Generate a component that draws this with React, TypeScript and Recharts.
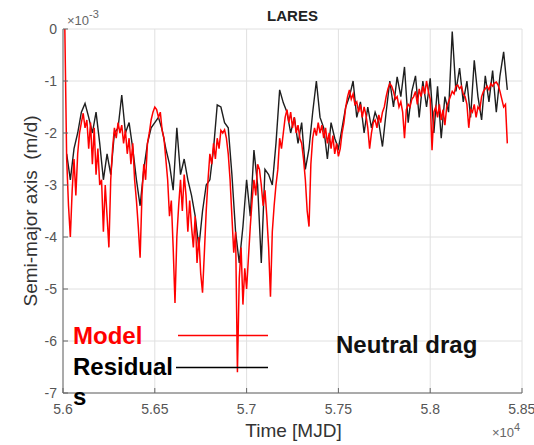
import React from 'react';
import { LineChart, Line, XAxis, YAxis, CartesianGrid } from 'recharts';

// Time axis (MJD) and semi-major axis rate axis (units of 1e-3 m/d)
const X_TICKS = [56000, 56500, 57000, 57500, 58000, 58500];
const Y_TICKS = [-7, -6, -5, -4, -3, -2, -1, 0];

// Model series: sampled every 10 days starting at MJD 56010
const MODEL_START = 56010;
const MODEL_STEP = 10;
const MODEL_VALUES = [
  0, -2.5, -3.4, -4.0, -3.1, -2.5, -3.2, -2.4, -2.0, -1.8,
  -1.62, -1.9, -1.75, -2.3, -1.8, -2.6, -1.9, -2.8, -2.3, -3.0,
  -2.9, -3.9, -3.0, -3.6, -4.2, -2.9, -2.3, -1.9, -2.1, -1.8,
  -2.0, -1.85, -2.2, -1.95, -2.4, -2.1, -2.6, -2.2, -2.9, -3.3,
  -3.8, -4.4, -3.2, -2.6, -2.9, -2.2, -2.0, -1.75, -1.6, -1.5,
  -1.55, -1.7, -1.6, -1.95, -2.1, -2.5, -2.9, -3.6, -3.3, -4.2,
  -5.27, -4.0, -3.4, -2.9, -3.5, -2.8, -3.2, -3.9, -3.3, -3.8,
  -4.2, -3.6, -4.5, -4.0, -4.7, -5.07, -4.3, -3.5, -2.9, -2.4,
  -2.6, -2.2, -2.5, -2.1, -2.3, -1.95, -2.0, -1.94, -2.1, -2.4,
  -2.9, -3.6, -4.3, -3.9, -6.6, -4.8, -4.2, -5.3, -4.6, -5.0,
  -4.4, -3.8, -3.3, -2.9, -3.2, -2.6, -2.7, -3.0, -3.4, -3.1,
  -3.6, -4.2, -5.15, -3.9, -3.4, -3.0, -2.7, -2.1, -2.3, -2.0,
  -1.7, -1.55, -1.8, -1.6, -1.9, -1.7, -2.0, -1.85, -2.1, -2.2,
  -2.5, -2.9, -3.5, -3.8, -2.6, -2.1, -1.9, -2.05, -1.8, -2.0,
  -1.85, -2.1, -1.9, -2.2, -2.0, -2.3, -2.05, -2.4, -2.2, -2.45,
  -2.3, -2.0, -1.8, -1.5, -1.3, -1.17, -1.35, -1.25, -1.45, -1.4,
  -1.6, -1.45, -1.7, -1.5, -1.65, -1.9, -2.3, -2.0, -1.8, -1.75,
  -1.9, -1.65, -1.8, -1.6, -1.5, -1.3, -1.15, -1.05, -1.1, -1.2,
  -1.35, -1.3, -1.5, -1.4, -1.6, -2.1, -1.55, -1.45, -1.5, -1.35,
  -1.3, -1.2, -1.45, -1.15, -1.3, -1.1, -1.25, -1.0, -1.2, -1.35,
  -2.33, -1.6, -1.5, -1.7, -1.45, -1.75, -1.55, -1.85, -1.5, -1.4,
  -1.3, -1.2, -1.25, -1.1, -1.08, -1.15, -1.1, -1.25, -1.3, -1.45,
  -1.9, -1.55, -1.6, -1.45, -1.7, -1.5, -1.55, -1.3, -1.2, -1.15,
  -1.1, -1.17, -1.05, -1.1, -1.04, -1.02, -1.08, -1.2, -1.35, -1.5, -1.45, -2.2,
];

// Residuals series: sampled every 20 days starting at MJD 56020
const RESID_START = 56020;
const RESID_STEP = 20;
const RESID_VALUES = [
  -2.4, -2.9, -2.3, -2.0, -1.6, -1.43, -1.7, -2.0, -1.6, -2.2,
  -2.9, -2.4, -2.8, -2.0, -1.9, -1.27, -2.0, -1.8, -2.3, -2.9,
  -3.4, -2.7, -2.2, -1.9, -1.8, -1.7, -1.94, -2.3, -2.6, -3.1,
  -1.9, -2.8, -2.5, -2.9, -3.2, -3.6, -4.2, -3.5, -3.0, -2.9,
  -2.3, -1.46, -1.5, -1.8, -1.9, -2.8, -3.9, -4.5, -3.8, -2.9,
  -3.6, -2.33, -3.0, -4.5, -2.7, -2.8, -3.0, -2.2, -1.17, -1.42,
  -1.6, -2.0, -1.7, -2.2, -1.8, -2.7, -2.3, -1.6, -1.0, -1.7,
  -1.9, -2.5, -1.8, -2.1, -2.3, -1.9, -1.5, -1.3, -1.0, -1.7,
  -1.4, -2.0, -1.5, -1.9, -1.6, -1.8, -2.26, -1.6, -1.0, -1.5,
  -0.92, -1.3, -0.73, -1.8, -1.2, -0.9, -1.7, -1.0, -1.5, -0.95,
  -2.0, -1.1, -2.1, -1.3, -1.6, -0.05, -1.2, -0.75, -1.4, -1.0,
  -1.7, -0.6, -1.3, -1.75, -0.9, -1.4, -0.8, -1.6, -0.9, -0.44,
  -1.17,
];

const modelData = MODEL_VALUES.map((v, i) => ({ t: MODEL_START + i * MODEL_STEP, v }));
const residData = RESID_VALUES.map((v, i) => ({ t: RESID_START + i * RESID_STEP, v }));

const FONT = '"Liberation Sans", Arial, Helvetica, sans-serif';
const TICK_COLOR = '#555';
const AXIS_COLOR = '#666';

const fmtX = (v: number) => String(Math.round(v / 10) / 1000);
const fmtY = (v: number) => String(v);
const blank = () => '';

export default function App() {
  return (
    <div style={{ position: 'absolute', left: 0, top: 0, width: 534, height: 445, background: '#fff', fontFamily: FONT }}>
      <LineChart width={534} height={445} margin={{ top: 29, right: 12, bottom: 0, left: 0 }}>
        <CartesianGrid stroke="#e0e0e0" strokeWidth={1} />
        <XAxis
          dataKey="t"
          type="number"
          domain={[56000, 58500]}
          ticks={X_TICKS}
          allowDataOverflow
          height={52}
          tickFormatter={fmtX}
          tick={{ fontSize: 14, fill: TICK_COLOR, fontFamily: FONT }}
          tickSize={-5}
          tickMargin={16}
          tickLine={{ stroke: AXIS_COLOR }}
          axisLine={{ stroke: AXIS_COLOR }}
        />
        <XAxis
          xAxisId="top"
          orientation="top"
          type="number"
          domain={[56000, 58500]}
          ticks={X_TICKS}
          allowDataOverflow
          height={0}
          tickFormatter={blank}
          tickSize={-5}
          tickLine={{ stroke: AXIS_COLOR }}
          axisLine={{ stroke: AXIS_COLOR }}
        />
        <YAxis
          type="number"
          domain={[-7, 0]}
          ticks={Y_TICKS}
          allowDataOverflow
          width={63}
          tickFormatter={fmtY}
          tick={{ fontSize: 14, fill: TICK_COLOR, fontFamily: FONT }}
          tickSize={-5}
          tickMargin={11}
          tickLine={{ stroke: AXIS_COLOR }}
          axisLine={{ stroke: AXIS_COLOR }}
        />
        <YAxis
          yAxisId="right"
          orientation="right"
          type="number"
          domain={[-7, 0]}
          ticks={Y_TICKS}
          allowDataOverflow
          width={0}
          tickFormatter={blank}
          tickSize={-5}
          tickLine={{ stroke: AXIS_COLOR }}
          axisLine={{ stroke: AXIS_COLOR }}
        />
        <Line
          data={residData}
          dataKey="v"
          type="linear"
          stroke="#1e1e1e"
          strokeWidth={1.4}
          dot={false}
          isAnimationActive={false}
        />
        <Line
          data={modelData}
          dataKey="v"
          type="linear"
          stroke="#ff0000"
          strokeWidth={1.5}
          dot={false}
          isAnimationActive={false}
        />
      </LineChart>
      <svg
        width={534}
        height={445}
        style={{ position: 'absolute', left: 0, top: 0, pointerEvents: 'none' }}
        fontFamily={FONT}
      >
        <text x={292.5} y={21} textAnchor="middle" fontSize={15} fontWeight="bold" fill="#222">LARES</text>
        <text x={67} y={25} fontSize={13} fill="#666">
          ×10<tspan dy={-7} fontSize={11}>-3</tspan>
        </text>
        <text x={492} y={437} fontSize={13} fill="#666">
          ×10<tspan dy={-6} fontSize={11}>4</tspan>
        </text>
        <text x={293.5} y={437} textAnchor="middle" fontSize={19} fill="#333">Time [MJD]</text>
        <text
          x={0}
          y={0}
          transform="translate(37 211) rotate(-90)"
          textAnchor="middle"
          fontSize={19}
          fill="#333"
          style={{ whiteSpace: 'pre' }}
        >
          {'Semi-major axis  (m/d)'}
        </text>
        <text x={73} y={344} fontSize={24} fontWeight="bold" fill="#ff0000">Model</text>
        <line x1={178} y1={335.5} x2={268} y2={335.5} stroke="#ff0000" strokeWidth={1.6} />
        <text x={73} y={375} fontSize={24} fontWeight="bold" fill="#000">Residual</text>
        <text x={73} y={405} fontSize={24} fontWeight="bold" fill="#000">s</text>
        <line x1={176} y1={367.5} x2={268} y2={367.5} stroke="#000" strokeWidth={1.6} />
        <text x={336} y={353} fontSize={24} fontWeight="bold" fill="#111">Neutral drag</text>
      </svg>
    </div>
  );
}
